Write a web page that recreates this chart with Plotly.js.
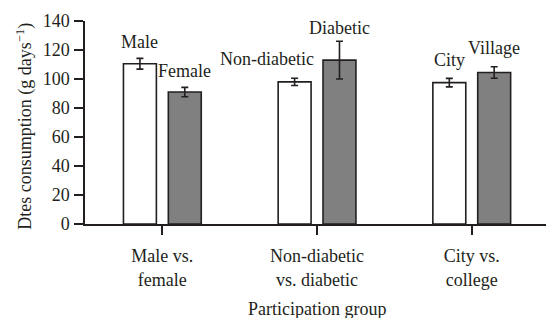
<!DOCTYPE html>
<html>
<head>
<meta charset="utf-8">
<script src="https://cdn.plot.ly/plotly-3.0.1.min.js"></script>
<style>html,body{margin:0;padding:0;background:#fff;font-family:'Liberation Serif';}#chart{width:546px;height:318px;}</style>
</head>
<body>
<div id="chart"></div>
<script>
const categories = ["Male vs.<br>female", "Non-diabetic<br>vs. diabetic", "City vs.<br>college"];
const firstLabels = ["Male", "Non-diabetic", "City"];
const secondLabels = ["Female", "Diabetic", "Village"];
const firstValues = [110.5, 98, 97.5];
const firstErrors = [3.7, 2.5, 2.9];
const secondValues = [91, 113, 104.5];
const secondErrors = [3.2, 13, 4];
const xTitle = 'Participation group';
const yTitle = 'Dtes consumption (g days<sup>\u22121</sup>)';

const ink = '#231f20';
function F() { return {family: 'Liberation Serif', size: 18, color: ink}; }

const traceFirst = {
  type: 'bar', x: categories, y: firstValues,
  marker: {color: '#ffffff', line: {color: ink, width: 1.6}},
  error_y: {type: 'data', array: firstErrors, visible: true, color: ink, thickness: 1.6, width: 3.5},
  hoverinfo: 'skip'
};
const traceSecond = {
  type: 'bar', x: categories, y: secondValues,
  marker: {color: '#808080', line: {color: ink, width: 1.6}},
  error_y: {type: 'data', array: secondErrors, visible: true, color: ink, thickness: 1.6, width: 3.5},
  hoverinfo: 'skip'
};

const off = 0.145;
const annotations = [];
const firstShift = [16, 19, 18];
const secondShift = [16, 13, 19];
for (let i = 0; i < categories.length; i++) {
  const isNon = firstLabels[i] === 'Non-diabetic';
  annotations.push({
    x: isNon ? i - 0.005 : i - off, y: firstValues[i] + firstErrors[i],
    xref: 'x', yref: 'y', text: firstLabels[i], showarrow: false,
    xanchor: isNon ? 'right' : 'center', yanchor: 'middle', yshift: firstShift[i], font: F()
  });
  annotations.push({
    x: i + off, y: secondValues[i] + secondErrors[i],
    xref: 'x', yref: 'y', text: secondLabels[i], showarrow: false,
    xanchor: 'center', yanchor: 'middle', yshift: secondShift[i], font: F()
  });
}
annotations.push({
  xref: 'paper', yref: 'paper', x: 0.503, y: -0.418, text: xTitle, showarrow: false,
  xanchor: 'center', yanchor: 'middle', font: F()
});
annotations.push({
  xref: 'paper', yref: 'paper', x: -0.132, y: 0.48, text: yTitle, showarrow: false,
  textangle: -90, xanchor: 'center', yanchor: 'middle', font: F()
});

const layout = {
  width: 546, height: 318,
  margin: {l: 85, r: 0, t: 21, b: 94},
  paper_bgcolor: '#fff', plot_bgcolor: '#fff',
  font: F(),
  showlegend: false,
  barmode: 'group', bargap: 0.42, bargroupgap: 0.266,
  xaxis: {
    type: 'category', range: [-0.5, 2.48],
    showline: true, linecolor: ink, linewidth: 1.5,
    ticks: 'outside', ticklen: 9, tickcolor: ink, tickwidth: 1.5,
    showgrid: false, zeroline: false, automargin: false,
    tickfont: F(), ticklabelstandoff: 6
  },
  yaxis: {
    range: [0, 140], dtick: 20,
    showline: true, linecolor: ink, linewidth: 1.5,
    ticks: 'outside', ticklen: 9, tickcolor: ink, tickwidth: 1.5,
    showgrid: false, zeroline: false, automargin: false,
    tickfont: F(), ticklabelstandoff: 1
  },
  annotations: annotations
};

Plotly.newPlot('chart', [traceFirst, traceSecond], layout, {displayModeBar: false});
</script>
</body>
</html>
